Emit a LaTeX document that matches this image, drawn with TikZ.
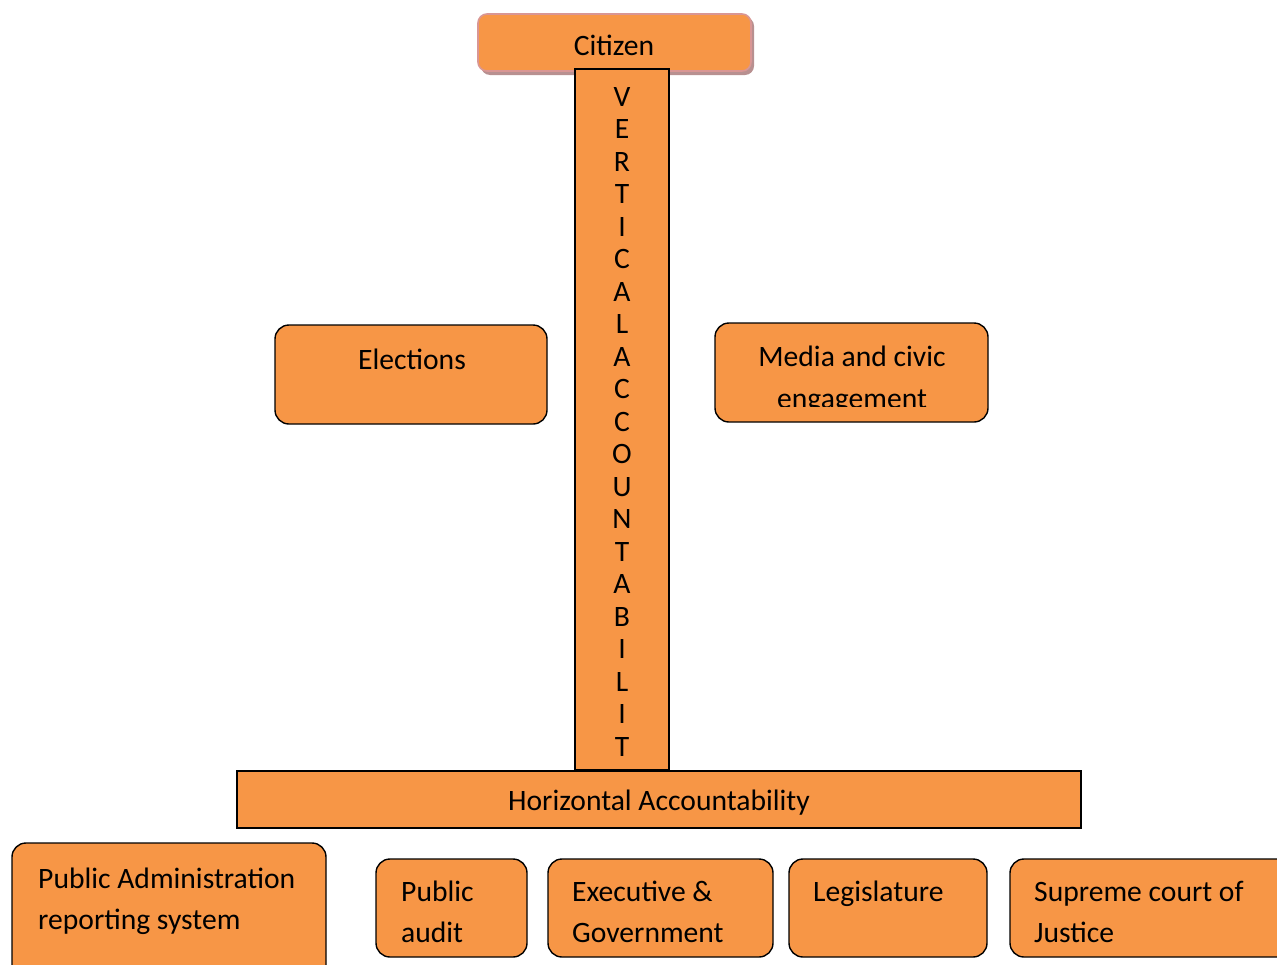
\documentclass[tikz,border=0pt]{standalone}
\usepackage{fontspec}
\setmainfont{Carlito}
\definecolor{boxorange}{HTML}{F79646}
\definecolor{citborder}{HTML}{D99694}
\definecolor{citshadow}{HTML}{B89090}
\tikzset{
  rbox/.style={draw=black, fill=boxorange, line width=1.4pt, rounded corners=14pt},
  sbox/.style={draw=black, fill=boxorange, line width=1.4pt},
  txt/.style={inner sep=0pt, font=\fontsize{29.6}{41}\selectfont},
}
\begin{document}
\begin{tikzpicture}[x=1pt,y=-1pt]
\clip (0,0) rectangle (1277,964);
\useasboundingbox (0,0) rectangle (1277,964);
% Citizen
\fill[citshadow, rounded corners=9pt] (481,17) rectangle (754,75);
\draw[fill=boxorange, draw=citborder, line width=1.6pt, rounded corners=9pt] (478,14) rectangle (751,71);
\node[txt, anchor=base] (cit) at (614,55) {Citizen};
% vertical bar
\draw[sbox] (575,69) rectangle (669,770);
\foreach \l [count=\i from 0] in {V,E,R,T,I,C,A,L,A,C,C,O,U,N,T,A,B,I,L,I,T}
  \node[txt, anchor=base] (v\i) at (622,{106+32.5*\i}) {\l};
% Elections
\draw[rbox] (275,325) rectangle (547,424);
\node[txt, anchor=base] (el) at (412,369) {Elections};
% Media
\draw[rbox] (715,323) rectangle (988,422);
\node[txt, anchor=base] (me1) at (852,366) {Media and civic};
\begin{scope}
\clip (715,330) rectangle (988,406);
\node[txt, anchor=base] (me2) at (852,408) {engagement};
\end{scope}
% Horizontal
\draw[sbox] (237,771) rectangle (1081,828);
\node[txt, anchor=base] (ha) at (659,810) {Horizontal Accountability};
% bottom boxes
\draw[rbox] (12,843) rectangle (326,990);
\node[txt, anchor=base west] (pa1) at (38,888) {Public Administration};
\node[txt, anchor=base west] (pa2) at (38,929) {reporting system};
\draw[rbox] (376,859) rectangle (527,957);
\node[txt, anchor=base west] (au1) at (401,901) {Public};
\node[txt, anchor=base west] (au2) at (401,942) {audit};
\draw[rbox] (548,859) rectangle (773,957);
\node[txt, anchor=base west] (ex1) at (572,901) {Executive \&};
\node[txt, anchor=base west] (ex2) at (572,942) {Government};
\draw[rbox] (789,859) rectangle (987,957);
\node[txt, anchor=base west] (le1) at (813,901) {Legislature};
\draw[rbox] (1010,859) rectangle (1300,957);
\node[txt, anchor=base west] (sc1) at (1034,901) {Supreme court of};
\node[txt, anchor=base west] (sc2) at (1034,942) {Justice};
\end{tikzpicture}
\end{document}
